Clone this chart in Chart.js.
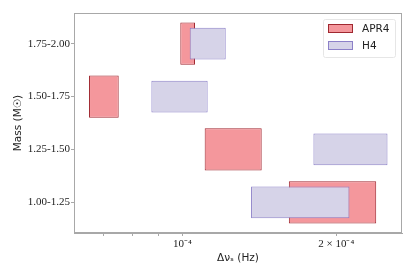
<!DOCTYPE html>
<html lang="en">
<head>
    <meta charset="UTF-8">
    <title>Frequency shift by mass bin</title>
    <script src="https://cdn.jsdelivr.net/npm/chart.js"></script>
    <style>
        body {
            margin: 0;
            background: #fff;
        }
        canvas {
            display: block;
        }
    </style>
</head>
<body>
    <canvas id="shiftChart" width="415" height="277"></canvas>

    <script>
        // mass bins, bottom to top
        const massBins = ['1.00-1.25', '1.25-1.50', '1.50-1.75', '1.75-2.00'];

        // Δν_s range per bin (Hz)
        const apr4Low  = [1.616e-4, 1.106e-4, 0.657e-4, 0.991e-4];
        const apr4High = [2.395e-4, 1.430e-4, 0.751e-4, 1.059e-4];
        const h4Low    = [1.363e-4, 1.805e-4, 0.870e-4, 1.034e-4];
        const h4High   = [2.123e-4, 2.520e-4, 1.121e-4, 1.216e-4];

        const xTickValues = [7e-5, 8e-5, 9e-5, 1e-4, 2e-4];
        const xTickLabels = {1e-4: '10⁻⁴', 2e-4: '2 × 10⁻⁴'};

        const spine = '#a8a8a8';

        function toBars(low, high) {
            return massBins.map((_, i) => ({ x: [low[i], high[i]], y: i }));
        }

        // frame on all four sides + the legend box inside the axes
        const framePlugin = {
            id: 'frame',
            afterDraw(chart) {
                const { ctx, chartArea: a } = chart;
                ctx.save();
                ctx.strokeStyle = spine;
                ctx.lineWidth = 1;
                ctx.strokeRect(a.left + 0.5, a.top + 0.5, a.right - a.left - 1, a.bottom - a.top - 1);

                // legend
                const bx = a.right - 79, by = a.top + 6, bw = 72, bh = 38;
                ctx.fillStyle = 'rgba(255,255,255,0.8)';
                ctx.strokeStyle = '#e6e6e6';
                ctx.beginPath();
                ctx.roundRect(bx + 0.5, by + 0.5, bw, bh, 2);
                ctx.fill();
                ctx.stroke();
                chart.data.datasets.forEach((ds, i) => {
                    const y = by + 5 + i * 17;
                    ctx.fillStyle = ds.backgroundColor;
                    ctx.fillRect(bx + 5, y, 25, 9);
                    ctx.strokeStyle = ds.borderColor;
                    ctx.strokeRect(bx + 5.5, y + 0.5, 24, 8);
                    ctx.fillStyle = '#222';
                    ctx.font = '10.5px "DejaVu Sans"';
                    ctx.textBaseline = 'middle';
                    ctx.fillText(ds.label, bx + 39, y + 5);
                });
                ctx.restore();
            }
        };

        const ctx = document.getElementById('shiftChart').getContext('2d');

        const shiftChart = new Chart(ctx, {
            type: 'bar',
            data: {
                datasets: [
                    {
                        label: 'APR4',
                        data: toBars(apr4Low, apr4High),
                        backgroundColor: 'rgb(244,151,156)',
                        borderColor: 'rgb(160,40,48)',
                        borderWidth: 1,
                        borderSkipped: false,
                        barPercentage: 0.8,
                        categoryPercentage: 1,
                        grouped: false,
                        order: 1
                    },
                    {
                        label: 'H4',
                        data: toBars(h4Low, h4High),
                        backgroundColor: 'rgb(214,211,232)',
                        borderColor: 'rgb(140,128,200)',
                        borderWidth: 1,
                        borderSkipped: false,
                        barPercentage: 0.6,
                        categoryPercentage: 1,
                        grouped: false,
                        order: 0
                    }
                ]
            },
            options: {
                responsive: false,
                animation: false,
                indexAxis: 'y',
                layout: { padding: { top: 13, right: 13, left: 0, bottom: 0 } },
                plugins: {
                    legend: { display: false },
                    tooltip: { enabled: false }
                },
                scales: {
                    x: {
                        type: 'logarithmic',
                        min: 6.14e-5,
                        max: 2.69e-4,
                        afterBuildTicks: s => { s.ticks = xTickValues.map(v => ({ value: v })); },
                        afterFit: s => { s.height = 44; },
                        ticks: {
                            autoSkip: false,
                            maxRotation: 0,
                            padding: 2,
                            color: '#222',
                            font: { family: 'Liberation Serif', size: 11 },
                            callback: v => xTickLabels[v] || ''
                        },
                        grid: { drawOnChartArea: false, tickLength: 3, color: spine },
                        border: { color: spine },
                        title: {
                            display: true,
                            text: 'Δνₛ (Hz)',
                            color: '#222',
                            font: { family: 'DejaVu Sans', size: 10.5 },
                            padding: { top: 0, bottom: 12 }
                        }
                    },
                    y: {
                        type: 'linear',
                        offset: false,
                        min: -0.58,
                        max: 3.58,
                        afterBuildTicks: s => { s.ticks = massBins.map((_, i) => ({ value: i })); },
                        afterFit: s => { s.width = 74; },
                        ticks: {
                            padding: 1,
                            color: '#222',
                            font: { family: 'Liberation Serif', size: 11 },
                            callback: v => massBins[v]
                        },
                        grid: { drawOnChartArea: false, offset: false, tickLength: 3, color: spine },
                        border: { color: spine },
                        title: {
                            display: true,
                            text: 'Mass (M☉)',
                            color: '#222',
                            font: { family: 'DejaVu Sans', size: 10.5 },
                            padding: { top: 12, bottom: 0 }
                        }
                    }
                }
            },
            plugins: [framePlugin]
        });
    </script>
</body>
</html>
